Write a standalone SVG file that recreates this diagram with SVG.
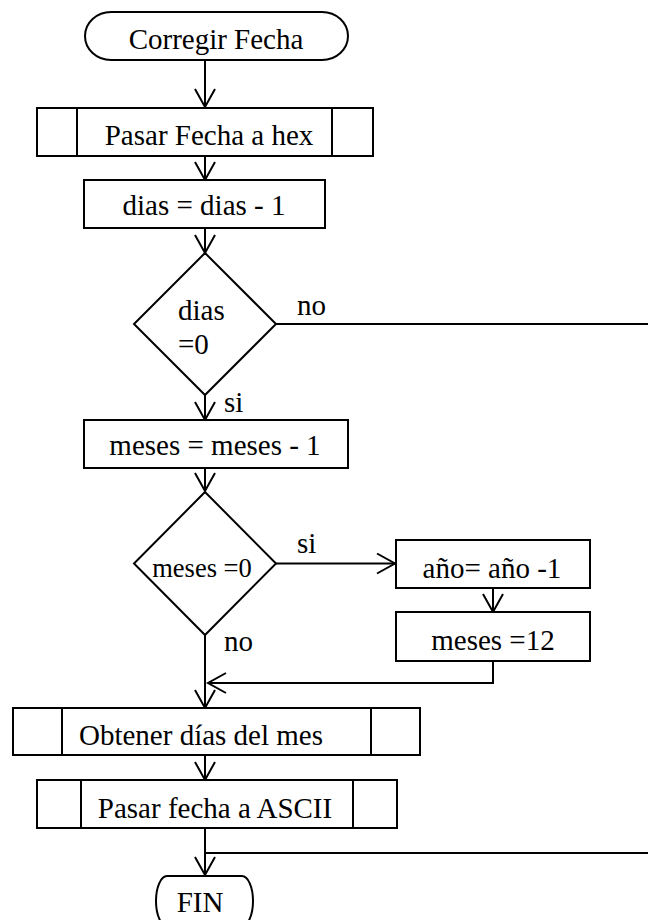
<svg xmlns="http://www.w3.org/2000/svg" width="648" height="920" viewBox="0 0 648 920">
  <style>
    .shape { fill: #fff; stroke: #000; stroke-width: 2; }
    .sub { fill: none; stroke: #000; stroke-width: 2; }
    .wire { fill: none; stroke: #000; stroke-width: 2; }
    text { font-family: "Liberation Serif", "Times New Roman", serif; font-size: 29px; fill: #000; }
    .c { text-anchor: middle; }
  </style>
  <defs>
    <marker id="open" markerUnits="userSpaceOnUse" markerWidth="24" markerHeight="24" viewBox="-20 -12 22 24" refX="0" refY="0" orient="auto">
      <path d="M-18,-10 L0,0 L-18,10" fill="none" stroke="#000" stroke-width="2"/>
    </marker>
  </defs>

  <!-- connectors -->
  <g id="connectors">
    <path class="wire" d="M205,60 V107" marker-end="url(#open)"/>
    <path class="wire" d="M205,156 V180" marker-end="url(#open)"/>
    <path class="wire" d="M205,228 V253" marker-end="url(#open)"/>
    <path class="wire" d="M276,324 H648"/>
    <path class="wire" d="M205,395 V420" marker-end="url(#open)"/>
    <path class="wire" d="M205,468 V491" marker-end="url(#open)"/>
    <path class="wire" d="M276,563.5 H395" marker-end="url(#open)"/>
    <path class="wire" d="M493,588 V612" marker-end="url(#open)"/>
    <path class="wire" d="M493,661 V683 H208" marker-end="url(#open)"/>
    <path class="wire" d="M205,635 V708" marker-end="url(#open)"/>
    <path class="wire" d="M205,755 V780" marker-end="url(#open)"/>
    <path class="wire" d="M205,828 V875" marker-end="url(#open)"/>
    <path class="wire" d="M205,853 H648"/>
    <text x="297" y="315">no</text>
    <text x="224" y="412">si</text>
    <text x="297" y="553">si</text>
    <text x="224" y="651">no</text>
  </g>

  <!-- start -->
  <g id="start">
    <rect class="shape" x="85" y="12" width="263" height="48" rx="26" ry="24"/>
    <text class="c" x="216" y="49">Corregir Fecha</text>
  </g>

  <g id="pasar-hex">
    <rect class="shape" x="37" y="108" width="336" height="48"/>
    <line class="sub" x1="77" y1="108" x2="77" y2="156"/>
    <line class="sub" x1="332" y1="108" x2="332" y2="156"/>
    <text class="c" x="209" y="145">Pasar Fecha a hex</text>
  </g>

  <g id="dias-dec">
    <rect class="shape" x="84" y="180" width="241" height="48"/>
    <text class="c" x="204" y="215">dias = dias - 1</text>
  </g>

  <g id="dias-cero">
    <polygon class="shape" points="205,253 276,324 205,395 134,324"/>
    <text x="178" y="320">dias</text>
    <text x="178" y="354">=0</text>
  </g>

  <g id="meses-dec">
    <rect class="shape" x="84" y="420" width="264" height="48"/>
    <text class="c" x="215" y="455">meses = meses - 1</text>
  </g>

  <g id="meses-cero">
    <polygon class="shape" points="205,492 276,563.5 205,635 134,563.5"/>
    <text class="c" x="202" y="577" style="font-size:26.5px">meses =0</text>
  </g>

  <g id="anio-dec">
    <rect class="shape" x="396" y="540" width="194" height="48"/>
    <text class="c" x="492" y="578">año= año -1</text>
  </g>

  <g id="meses-doce">
    <rect class="shape" x="396" y="612" width="194" height="49"/>
    <text class="c" x="493" y="650">meses =12</text>
  </g>

  <g id="obtener-dias">
    <rect class="shape" x="13" y="708" width="407" height="47"/>
    <line class="sub" x1="62" y1="708" x2="62" y2="755"/>
    <line class="sub" x1="371" y1="708" x2="371" y2="755"/>
    <text class="c" x="201" y="745">Obtener días del mes</text>
  </g>

  <g id="pasar-ascii">
    <rect class="shape" x="37" y="780" width="360" height="48"/>
    <line class="sub" x1="81" y1="780" x2="81" y2="828"/>
    <line class="sub" x1="353" y1="780" x2="353" y2="828"/>
    <text class="c" x="215" y="818">Pasar fecha a ASCII</text>
  </g>

  <g id="fin">
    <rect class="shape" x="156" y="876" width="97" height="50" rx="11" ry="25"/>
    <text class="c" x="200" y="912">FIN</text>
  </g>
</svg>
